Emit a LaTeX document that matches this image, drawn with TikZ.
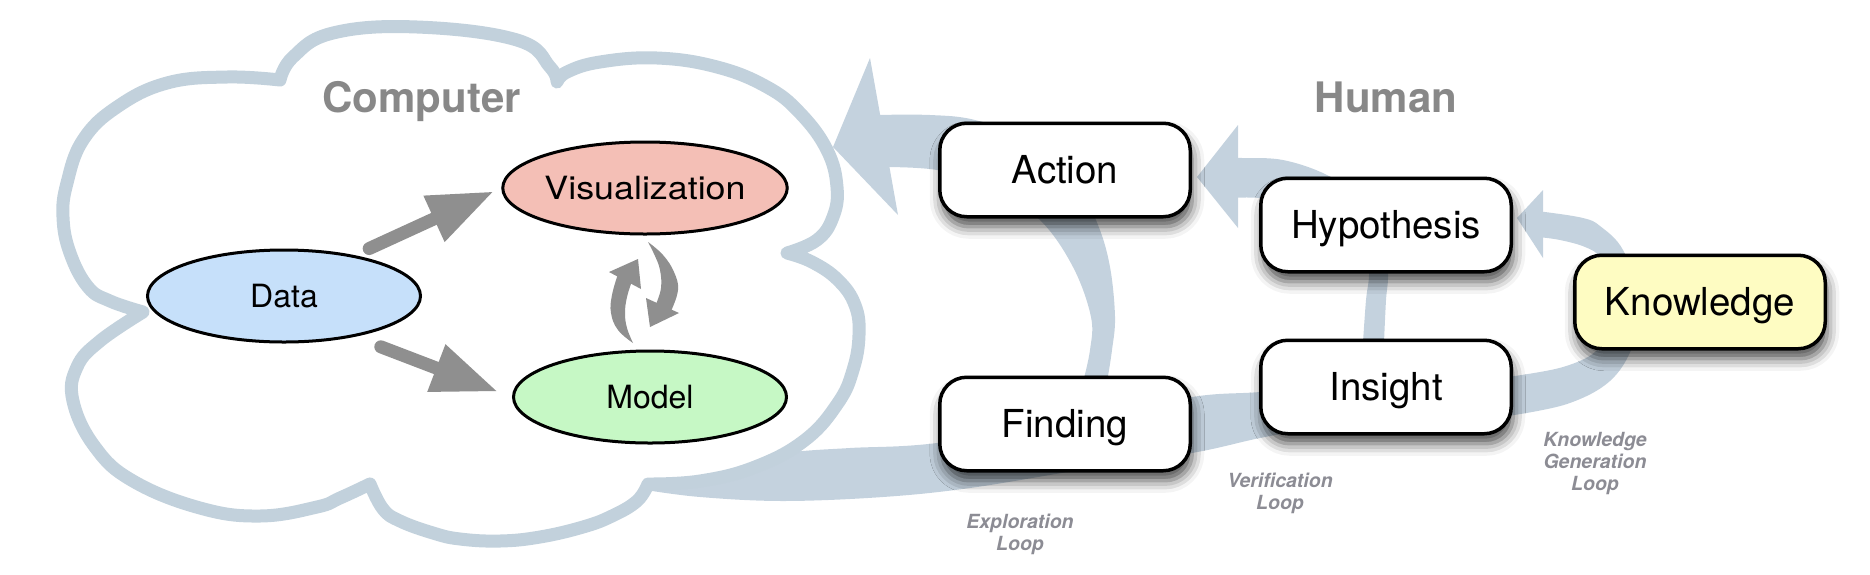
\documentclass[tikz,border=0pt]{standalone}
\usepackage{fontspec}
\usepackage{graphicx}
\setmainfont{TeX Gyre Heros}
\usetikzlibrary{shapes.geometric,arrows.meta,shadows.blur}
\definecolor{bandc}{RGB}{196,210,222}
\definecolor{cloudc}{RGB}{194,209,220}
\definecolor{garrowc}{RGB}{143,143,143}
\definecolor{datac}{RGB}{198,224,250}
\definecolor{visc}{RGB}{244,191,182}
\definecolor{modelc}{RGB}{198,248,197}
\definecolor{knowc}{RGB}{254,252,194}
\definecolor{headc}{RGB}{136,136,136}
\definecolor{loopc}{RGB}{140,140,148}
\begin{document}
\begin{tikzpicture}[x=1pt,y=-1pt,
  cloudline/.style={draw=cloudc, line width=13pt, line join=round, fill=white},
  ell/.style={ellipse, draw=black, line width=3pt, minimum width=273pt, minimum height=92pt,
    inner sep=0pt, font=\fontsize{32}{34}\selectfont, text height=23pt, text depth=0pt},
  hbox/.style={rectangle, rounded corners=27pt, draw=black, line width=3.5pt, fill=white,
    minimum width=250.5pt, minimum height=93.5pt, inner sep=0pt,
    font=\fontsize{38.5}{40}\selectfont, text height=27.7pt, text depth=0pt,
    blur shadow={shadow xshift=2pt, shadow yshift=-10pt, shadow blur radius=12pt, shadow opacity=70}},
  garrow/.style={draw=garrowc, line width=13pt, line cap=round, -{Triangle[length=66pt,width=47pt]}},
  heading/.style={font=\fontsize{42}{44}\selectfont\bfseries, text=headc, anchor=base, inner sep=0pt},
  looplabel/.style={font=\fontsize{19.5}{22}\selectfont\bfseries\itshape, text=loopc, align=center, anchor=north, inner sep=0pt}
]
\useasboundingbox (0,0) rectangle (1870,574);
% bottom band (under cloud)
\fill[bandc] plot[smooth,tension=0.6] coordinates {(646,490) (700,497) (783,501) (883,497) (970,488) (1080,470) (1192,453) (1260,438) (1330,425)}
  -- plot[smooth,tension=0.6] coordinates {(1330,385) (1260,392) (1192,397) (1080,420) (937,443) (850,448) (793,452) (720,462) (660,478)} -- cycle;
% cloud
\draw[cloudline] plot[smooth,tension=0.7] coordinates {(280,80) (293,57) (333,33) (417,27) (517,40) (550,67) (557,82)}
 --plot[smooth,tension=0.7] coordinates {(557,82) (567,72) (600,62) (657,58) (717,67) (767,87) (800,113) (827,150) (837,187) (833,217) (817,240) (787,253)}
 --plot[smooth,tension=0.7] coordinates {(787,253) (812,262) (838,280) (855,305) (859,335) (853,370) (838,403) (805,440) (755,467) (700,481) (648,484)}
 --plot[smooth,tension=0.7] coordinates {(648,484) (637,501) (612,516) (583,527) (540,537) (500,541) (460,539) (433,533) (400,521) (383,509) (370,484)}
 --plot[smooth,tension=0.7] coordinates {(370,484) (340,498) (317,507) (260,516) (200,508) (133,481) (95,447) (73,401) (77,367) (100,341) (143,312)}
 --plot[smooth,tension=0.7] coordinates {(143,312) (110,301) (88,287) (70,253) (63,217) (67,183) (83,140) (117,107) (167,83) (227,77) (280,80)}
 -- cycle;
% exploration loop band
\fill[bandc] plot[smooth,tension=0.6] coordinates {(1107,382) (1112,350) (1115,317) (1110,267) (1098,225) (1075,180) (1030,140) (975,120) (930,115) (876,115)}
  -- plot[smooth,tension=0.6] coordinates {(885,167) (937,170) (990,185) (1040,220) (1073,267) (1091,317) (1090,350) (1083,382)} -- cycle;
\fill[bandc] (870,58) -- (833,147) -- (898,215) -- cycle;
% verification loop band
\fill[bandc] plot[smooth,tension=0.6] coordinates {(1384,342) (1386,300) (1388,275) (1385,235) (1362,200) (1327,175) (1283,160) (1242,158) (1234,158)}
  -- plot[smooth,tension=0.6] coordinates {(1234,198) (1260,198) (1310,205) (1350,228) (1366,255) (1369,275) (1366,300) (1363,342)} -- cycle;
\fill[bandc] (1238,125) -- (1197,177) -- (1238,228) -- cycle;
% knowledge generation loop band
\fill[bandc] plot[smooth,tension=0.6] coordinates {(1508,416) (1567,404) (1610,381) (1633,345) (1640,300) (1623,250) (1600,226) (1583,218) (1545,212) (1538,212)}
  -- plot[smooth,tension=0.6] coordinates {(1538,237) (1560,240) (1585,247) (1600,258) (1608,290) (1606,330) (1595,352) (1563,367) (1515,376) (1508,376)} -- cycle;
\fill[bandc] (1543,190) -- (1517,218) -- (1543,258) -- cycle;
% ellipses
\node[ell, fill=datac] (data) at (284,296) {Data};
\node[ell, fill=visc] (vis) at (645,188) {\scalebox{1.12}[1]{Visualization}};
\node[ell, fill=modelc] (model) at (650,397) {Model};
% grey arrows
\draw[garrow, shorten <=16pt, shorten >=8pt] (data.30) -- (vis.west);
\draw[garrow, shorten <=28pt, shorten >=15pt] (data.-30) -- (model.west);
% cycle arrows
\fill[garrowc] plot[smooth,tension=0.7] coordinates {(633,343) (618,330) (611,313) (612,295) (618,274)}
  -- plot[smooth,tension=0.7] coordinates {(632,281) (627,297) (625,313) (627,328) (633,343)} -- cycle;
\fill[garrowc] (609,272) -- (638,259) -- (641,289) -- cycle;
\fill[garrowc] plot[smooth,tension=0.7] coordinates {(648,242) (663,255) (674,272) (678,290) (671,311)}
  -- plot[smooth,tension=0.7] coordinates {(656,304) (661,288) (660,270) (655,256) (648,242)} -- cycle;
\fill[garrowc] (646,298) -- (679,313) -- (650,327) -- cycle;
% headings
\node[heading] (comp) at (421.5,112) {Computer};
\node[heading] (human) at (1386,112) {Human};
% boxes
\node[hbox] (action) at (1065,170) {Action};
\node[hbox] (finding) at (1065,424) {Finding};
\node[hbox] (hyp) at (1386,225) {Hypothesis};
\node[hbox] (insight) at (1386,387) {Insight};
\node[hbox, fill=knowc] (know) at (1700,302) {Knowledge};
% loop labels
\node[looplabel] (lexp) at (1020,514) {Exploration\\Loop};
\node[looplabel] (lver) at (1280,473) {Verification\\Loop};
\node[looplabel] (lkno) at (1595,432) {Knowledge\\Generation\\Loop};
\end{tikzpicture}
\end{document}
